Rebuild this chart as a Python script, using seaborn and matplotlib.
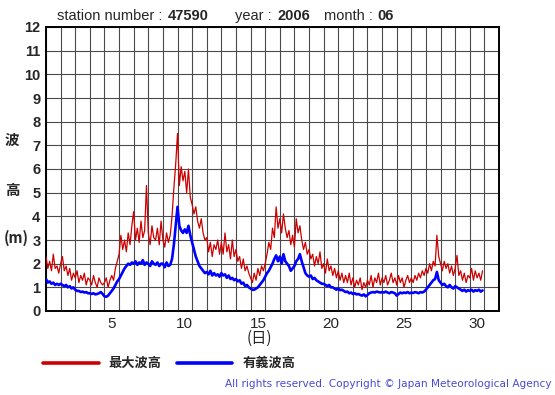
import numpy as np
import pandas as pd
import matplotlib
matplotlib.use("Agg")
import matplotlib.pyplot as plt
import seaborn as sns
from matplotlib.lines import Line2D

# ---- data (3-hourly readings, June 2006) ----
days = list(range(1, 31))
hours = [0, 3, 6, 9, 12, 15, 18, 21]

max_wave = [  # 最大波高 (m)
    2.3, 1.8, 2.1, 1.7, 2.4, 1.8, 1.9, 1.6,   # 1
    2.0, 2.3, 1.7, 1.9, 1.5, 1.8, 1.3, 1.6,   # 2
    1.4, 1.7, 1.2, 1.5, 1.3, 1.6, 1.1, 1.4,   # 3
    1.3, 1.1, 1.5, 1.2, 1.0, 1.4, 1.2, 1.1,   # 4
    1.2, 1.4, 1.0, 1.3, 1.5, 1.3, 1.8, 2.1,   # 5
    2.4, 3.2, 2.6, 3.0, 2.5, 3.3, 2.8, 3.6,   # 6
    4.2, 3.0, 3.5, 2.9, 3.8, 3.1, 3.4, 5.3,   # 7
    3.3, 2.8, 3.6, 3.1, 3.0, 3.5, 2.8, 3.8,   # 8
    3.0, 2.7, 3.3, 2.9, 3.2, 4.0, 5.2, 6.2,   # 9
    7.5, 5.3, 6.1, 5.5, 5.9, 5.0, 6.0, 4.8,   # 10
    4.5, 4.1, 4.4, 3.8, 3.5, 3.9, 3.3, 3.0,   # 11
    3.1, 2.5, 2.9, 2.3, 2.8, 2.6, 3.0, 2.4,   # 12
    2.9, 2.4, 3.3, 2.5, 2.8, 2.2, 3.0, 2.3,   # 13
    2.6, 2.1, 2.3, 1.8, 2.2, 1.7, 1.9, 1.6,   # 14
    1.4, 1.2, 1.6, 1.3, 1.8, 1.5, 1.9, 1.7,   # 15
    2.0, 2.4, 2.9, 2.6, 3.5, 3.1, 4.4, 3.5,   # 16
    3.9, 3.3, 4.1, 3.5, 3.1, 3.4, 2.8, 3.2,   # 17
    2.7, 3.9, 3.3, 3.6, 3.0, 2.6, 2.9, 2.4,   # 18
    2.6, 2.2, 2.4, 1.9, 2.3, 2.0, 2.5, 1.8,   # 19
    2.0, 1.6, 2.2, 1.7, 1.9, 1.5, 1.8, 1.4,   # 20
    1.7, 1.3, 1.6, 1.2, 1.5, 1.2, 1.6, 1.1,   # 21
    1.4, 1.0, 1.3, 1.1, 1.4, 0.9, 1.2, 1.0,   # 22
    1.3, 1.1, 1.5, 1.0, 1.4, 1.2, 1.6, 1.1,   # 23
    1.4, 1.2, 1.5, 1.1, 1.3, 1.6, 1.2, 1.4,   # 24
    1.1, 1.5, 1.2, 1.4, 1.0, 1.3, 1.5, 1.2,   # 25
    1.4, 1.2, 1.5, 1.3, 1.6, 1.4, 1.7, 1.5,   # 26
    1.8, 1.6, 2.0, 1.7, 2.1, 1.9, 3.2, 2.3,   # 27
    2.0, 1.7, 2.1, 1.8, 2.0, 1.6, 1.9, 1.5,   # 28
    1.8, 2.35, 1.5, 1.7, 1.3, 1.6, 1.2, 1.5,  # 29
    1.4, 1.8, 1.3, 1.7, 1.4, 1.6, 1.3, 1.7,   # 30
]

sig_wave = [  # 有義波高 (m)
    1.35, 1.2, 1.25, 1.15, 1.2, 1.1, 1.15, 1.1,     # 1
    1.15, 1.1, 1.05, 1.1, 1.0, 1.05, 0.95, 1.0,     # 2
    0.9, 0.85, 0.85, 0.8, 0.82, 0.78, 0.8, 0.75,    # 3
    0.75, 0.72, 0.75, 0.7, 0.72, 0.75, 0.8, 0.72,   # 4
    0.62, 0.6, 0.65, 0.75, 0.85, 0.95, 1.1, 1.25,   # 5
    1.35, 1.5, 1.65, 1.8, 1.9, 2.0, 1.95, 2.05,     # 6
    2.0, 2.1, 1.95, 2.05, 2.0, 2.15, 1.95, 2.05,    # 7
    2.0, 1.9, 2.1, 2.0, 1.95, 2.05, 1.9, 2.0,       # 8
    2.0, 1.85, 2.05, 1.9, 1.95, 2.2, 2.8, 3.6,      # 9
    4.4, 3.6, 3.4, 3.3, 3.45, 3.3, 3.6, 3.2,        # 10
    2.9, 2.6, 2.3, 2.1, 1.9, 1.8, 1.7, 1.6,         # 11
    1.65, 1.55, 1.7, 1.5, 1.6, 1.5, 1.55, 1.45,     # 12
    1.6, 1.5, 1.55, 1.4, 1.5, 1.35, 1.4, 1.3,       # 13
    1.35, 1.25, 1.3, 1.15, 1.2, 1.05, 1.1, 1.0,     # 14
    0.95, 0.9, 0.9, 0.95, 1.0, 1.1, 1.2, 1.3,       # 15
    1.45, 1.6, 1.7, 1.85, 2.0, 2.2, 2.35, 2.1,      # 16
    2.3, 2.0, 2.4, 2.1, 2.0, 1.9, 1.7, 1.8,         # 17
    1.9, 2.1, 2.2, 2.4, 2.1, 1.85, 1.6, 1.5,        # 18
    1.45, 1.5, 1.35, 1.4, 1.3, 1.25, 1.2, 1.15,     # 19
    1.15, 1.1, 1.05, 1.1, 1.0, 1.0, 0.95, 0.9,      # 20
    0.95, 0.88, 0.9, 0.85, 0.8, 0.82, 0.75, 0.78,   # 21
    0.72, 0.75, 0.7, 0.72, 0.68, 0.65, 0.7, 0.62,   # 22
    0.68, 0.75, 0.78, 0.8, 0.78, 0.82, 0.8, 0.78,   # 23
    0.8, 0.78, 0.82, 0.78, 0.75, 0.8, 0.78, 0.75,   # 24
    0.65, 0.72, 0.78, 0.75, 0.78, 0.76, 0.8, 0.75,  # 25
    0.78, 0.76, 0.8, 0.78, 0.75, 0.8, 0.78, 0.82,   # 26
    0.9, 1.0, 1.1, 1.2, 1.3, 1.35, 1.65, 1.3,       # 27
    1.2, 1.1, 1.15, 1.05, 1.0, 1.1, 1.0, 0.95,      # 28
    1.05, 1.0, 0.95, 0.9, 0.85, 0.9, 0.82, 0.88,    # 29
    0.85, 0.9, 0.82, 0.88, 0.85, 0.9, 0.82, 0.87,   # 30
]

xtick_days = [5, 10, 15, 20, 25, 30]
ytick_vals = list(range(0, 13))
series_names = ["最大波高", "有義波高"]
series_colors = ["#cc0000", "#0000ff"]

# ---- build table ----
t = [d + h / 24.0 for d in days for h in hours]
df = pd.DataFrame({
    "t": t * 2,
    "height": max_wave + sig_wave,
    "kind": [series_names[0]] * len(t) + [series_names[1]] * len(t),
})

sns.set_style("white")
plt.rcParams["font.family"] = ["Liberation Sans", "Noto Sans CJK JP", "DejaVu Sans"]

fig = plt.figure(figsize=(5.55, 3.95), dpi=100)
ax = fig.add_axes([46 / 555, 1 - 311 / 395, 453 / 555, 284 / 395])

sns.lineplot(data=df[df.kind == series_names[0]], x="t", y="height", ax=ax,
             color=series_colors[0], lw=0.9, legend=False, zorder=3)
sns.lineplot(data=df[df.kind == series_names[1]], x="t", y="height", ax=ax,
             color=series_colors[1], lw=1.9, legend=False, zorder=4)

ax.set_xlim(1, 32)
ax.set_ylim(0, 12)
ax.set_xticks(range(1, 33))
ax.set_xticklabels([])
ax.set_xticks([d + 0.5 for d in xtick_days], minor=True)
ax.set_xticklabels([str(d) for d in xtick_days], minor=True, fontsize=11)
ax.set_yticks(ytick_vals)
ax.set_yticklabels([str(v) for v in ytick_vals], fontsize=10.5, fontweight="bold")
ax.tick_params(axis="both", which="both", length=0)
ax.tick_params(axis="y", pad=4)
ax.tick_params(axis="x", which="minor", pad=4)
ax.grid(True, which="major", color="#4a4a4a", lw=0.8)
ax.set_axisbelow(True)
for s in ax.spines.values():
    s.set_color("black")
    s.set_linewidth(1.4)
ax.set_xlabel("")
ax.set_ylabel("")

cjk = ["Noto Sans CJK JP", "DejaVu Sans"]
# y label stacked
fig.text(12 / 555, 1 - 140 / 395, "波", family=cjk, fontsize=10.5, fontweight="bold", ha="center", va="center")
fig.text(12 / 555, 1 - 190 / 395, "高", family=cjk, fontsize=10.5, fontweight="bold", ha="center", va="center")
fig.text(16 / 555, 1 - 238 / 395, "(m)", family=cjk, fontsize=10.5, fontweight="bold", ha="center", va="center")
# x label
fig.text(259 / 555, 1 - 338 / 395, "(日)", family=cjk, fontsize=11, ha="center", va="center")

# header
hy = 1 - 16 / 395
fig.text(57 / 555, hy, "station number :", fontsize=10.5, ha="left", va="center")
fig.text(168 / 555, hy, "47590", fontsize=10.5, fontweight="bold", ha="left", va="center")
fig.text(235 / 555, hy, "year :", fontsize=10.5, ha="left", va="center")
fig.text(277 / 555, hy, "2006", fontsize=10.5, fontweight="bold", ha="left", va="center")
fig.text(324 / 555, hy, "month :", fontsize=10.5, ha="left", va="center")
fig.text(377 / 555, hy, "06", fontsize=10.5, fontweight="bold", ha="left", va="center")

# legend
ly = 1 - 363 / 395
fig.add_artist(Line2D([43 / 555, 99 / 555], [ly, ly], color=series_colors[0], lw=2.6))
fig.text(108 / 555, ly, series_names[0], family=cjk, fontsize=9.5, fontweight="bold", ha="left", va="center")
fig.add_artist(Line2D([177 / 555, 232 / 555], [ly, ly], color=series_colors[1], lw=2.6))
fig.text(243 / 555, ly, series_names[1], family=cjk, fontsize=9.5, fontweight="bold", ha="left", va="center")

fig.text(552 / 555, 1 - 384 / 395, "All rights reserved. Copyright © Japan Meteorological Agency",
         family=["DejaVu Sans"], fontsize=7.6, color="#4a4ad8", ha="right", va="center")

fig.savefig("out.png", dpi=100)
